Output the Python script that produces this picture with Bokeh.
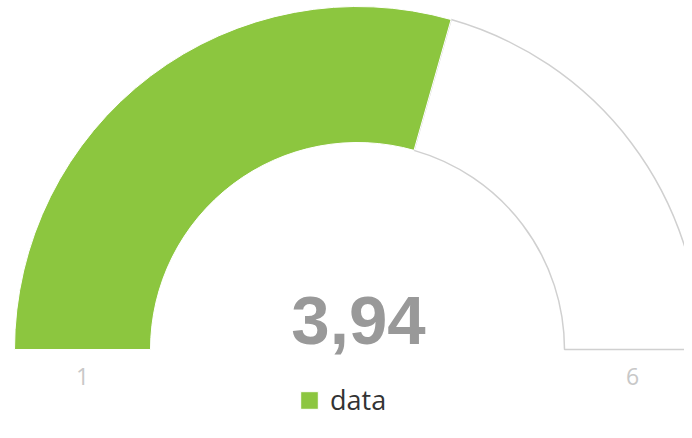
import math
from bokeh.plotting import figure
from bokeh.models import Range1d, Legend, LegendItem, ColumnDataSource
from bokeh.core.properties import value as V
from bokeh.embed import file_html
from bokeh.resources import INLINE

# ---- data ----
gauge_min = [1]
gauge_max = [6]
gauge_value = [3.94]
series_name = ["data"]
range_labels = ["1", "6"]

vmin, vmax, val = gauge_min[0], gauge_max[0], gauge_value[0]
frac = (val - vmin) / (vmax - vmin)
val_angle = math.pi * (1 - frac)

W, H = 684, 422
p = figure(width=W, height=H, output_backend="svg", toolbar_location=None,
           x_range=Range1d(0, W), y_range=Range1d(438 - H, 438),
           min_border=0, outline_line_color=None)
p.axis.visible = False
p.grid.visible = False
p.background_fill_color = "white"
p.border_fill_color = "white"

cx, cy = 357, 89
r_out, r_in = 343, 207

rest = p.annular_wedge(x=[cx], y=[cy], inner_radius=r_in, outer_radius=r_out,
                       start_angle=[0], end_angle=[val_angle],
                       fill_color="white", line_color="#d0d0d0", line_width=1.5)
filled = p.annular_wedge(x=[cx], y=[cy], inner_radius=r_in, outer_radius=r_out,
                         start_angle=[val_angle], end_angle=[math.pi],
                         fill_color="#8cc63f", line_color="white", line_width=1)

label_txt = f"{val:.2f}".replace(".", ",")
p.text(x=[cx + 1], y=[118], text=[label_txt], text_align="center",
       text_baseline="alphabetic", text_font=V("Liberation Sans"),
       text_font_style="bold", text_font_size="69px", text_color="#999999")

mid = (r_in + r_out) / 2
src = ColumnDataSource(dict(x=[cx - mid, cx + mid], y=[cy - 27, cy - 27], t=range_labels))
p.text(x="x", y="y", text="t", source=src, text_align="center",
       text_baseline="alphabetic", text_font=V("Open Sans"),
       text_font_size="23px", text_color="#c8c8c8")

legend = Legend(items=[LegendItem(label=series_name[0], renderers=[filled])],
                location=(298, 4), orientation="horizontal",
                padding=0, margin=0, spacing=0,
                glyph_width=22, glyph_height=22, label_height=22,
                label_standoff=10, label_text_font="Open Sans",
                label_text_font_size="27px", label_text_color="#333333",
                label_text_baseline="middle",
                border_line_color=None, background_fill_alpha=0)
p.add_layout(legend, "center")

open("out.html", "w").write(file_html(p, INLINE))
